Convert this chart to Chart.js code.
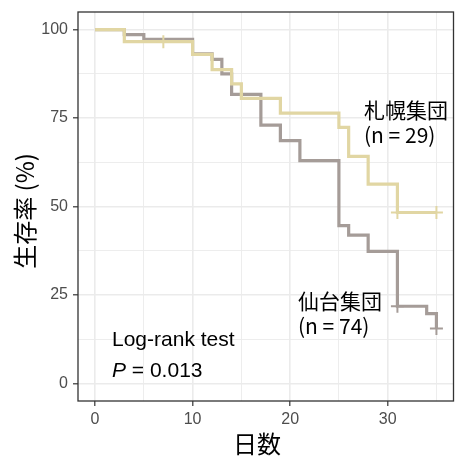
<!DOCTYPE html>
<html>
<head>
<meta charset="utf-8">
<script src="https://cdn.jsdelivr.net/npm/chart.js@4/dist/chart.umd.min.js"></script>
<style>
  html, body { margin: 0; padding: 0; background: #fff; }
  canvas { display: block; }
</style>
</head>
<body>
<canvas id="km" width="462" height="457"></canvas>
<script>
// Kaplan-Meier steps (day, survival %)
var sapporoDays = [0, 3, 10, 12, 14, 15, 19, 25, 26, 28, 31, 35];
var sapporoSurv = [100, 96.6, 93.0, 88.7, 84.7, 80.6, 76.4, 72.4, 64.2, 56.3, 48.3, 48.3];
var sapporoCensorDays = [7, 31, 35];
var sapporoCensorSurv = [96.6, 48.3, 48.3];

var sendaiDays = [0, 3, 5, 10, 12, 13, 14, 17, 19, 21, 25, 26, 28, 31, 34, 35];
var sendaiSurv = [100, 98.6, 97.3, 93.2, 91.6, 87.5, 81.7, 73.0, 68.6, 63.0, 44.6, 41.9, 37.3, 21.8, 19.7, 15.5];
var sendaiCensorDays = [31, 35];
var sendaiCensorSurv = [21.8, 15.5];

var xMajorTicks = [0, 10, 20, 30];
var xGridTicks = [0, 5, 10, 15, 20, 25, 30, 35];
var yMajorTicks = [0, 25, 50, 75, 100];
var yGridTicks = [0, 12.5, 25, 37.5, 50, 62.5, 75, 87.5, 100];

var sapporoColor = "#E1D6A3";
var sendaiColor = "#A59C98";
var latinFont = "'Liberation Sans', Arial, sans-serif";
var cjkFont = "'Noto Sans CJK JP', 'Liberation Sans', sans-serif";

function points(xs, ys) {
    return xs.map(function (x, i) { return { x: x, y: ys[i] }; });
}

function stepLine(xs, ys, color) {
    return {
        data: points(xs, ys),
        stepped: true,
        borderColor: color,
        borderWidth: 3.2,
        borderJoinStyle: "miter",
        borderCapStyle: "butt",
        pointRadius: 0,
        fill: false
    };
}

function censorMarks(xs, ys, color) {
    return {
        data: points(xs, ys),
        showLine: false,
        pointStyle: "cross",
        pointRadius: 6.5,
        pointBorderWidth: 2,
        pointBorderColor: color,
        pointBackgroundColor: color
    };
}

function gridStyle(majors) {
    return {
        color: "#EBEBEB",
        lineWidth: function (c) { return c.tick && majors.indexOf(c.tick.value) >= 0 ? 1.6 : 0.9; },
        drawTicks: true,
        tickLength: 5,
        tickWidth: 1.2,
        tickColor: function (c) { return c.tick && majors.indexOf(c.tick.value) >= 0 ? "#333333" : "rgba(0,0,0,0)"; }
    };
}

// panel border, axis titles and annotations
var decorations = {
    id: "decorations",
    afterDatasetsDraw: function (chart) {
        var ctx = chart.ctx, a = chart.chartArea;
        ctx.save();
        ctx.strokeStyle = "#333333";
        ctx.lineWidth = 1.3;
        ctx.strokeRect(a.left, a.top, a.right - a.left, a.bottom - a.top);
        ctx.restore();
    },
    afterDraw: function (chart) {
        var ctx = chart.ctx;
        ctx.save();
        ctx.fillStyle = "#000";

        ctx.font = "24px " + cjkFont;
        ctx.textAlign = "center";
        ctx.textBaseline = "middle";
        ctx.fillText("日数", 257, 444);
        ctx.save();
        ctx.translate(25, 211);
        ctx.rotate(-Math.PI / 2);
        ctx.fillText("生存率 (%)", 0, 0);
        ctx.restore();

        ctx.textAlign = "left";
        ctx.font = "21px " + cjkFont;
        ctx.textBaseline = "middle";
        ctx.fillText("札幌集団", 364, 110);
        ctx.fillText("仙台集団", 298, 301.5);
        ctx.textBaseline = "alphabetic";
        ctx.fillText("(n = 29)", 364, 143);
        ctx.fillText("(n = 74)", 298, 334);

        ctx.font = "21px " + latinFont;
        ctx.fillText("Log-rank test", 112, 346);
        ctx.font = "italic 21px " + latinFont;
        ctx.fillText("P", 112, 377);
        var w = ctx.measureText("P").width;
        ctx.font = "21px " + latinFont;
        ctx.fillText(" = 0.013", 112 + w, 377);
        ctx.restore();
    }
};

new Chart("km", {
    type: "line",
    data: {
        datasets: [
            censorMarks(sapporoCensorDays, sapporoCensorSurv, sapporoColor),
            stepLine(sapporoDays, sapporoSurv, sapporoColor),
            censorMarks(sendaiCensorDays, sendaiCensorSurv, sendaiColor),
            stepLine(sendaiDays, sendaiSurv, sendaiColor)
        ]
    },
    options: {
        responsive: false,
        animation: false,
        layout: { padding: { top: 12, right: 5, left: 0, bottom: 0 } },
        plugins: { legend: { display: false }, tooltip: { enabled: false } },
        scales: {
            x: {
                type: "linear",
                min: -1.75,
                max: 36.75,
                afterBuildTicks: function (s) { s.ticks = xGridTicks.map(function (v) { return { value: v }; }); },
                afterFit: function (s) { s.height = 56; s.paddingLeft = 0; s.paddingRight = 0; },
                border: { display: false },
                grid: gridStyle(xMajorTicks),
                ticks: {
                    autoSkip: false,
                    maxRotation: 0,
                    padding: 4,
                    color: "#4D4D4D",
                    font: { family: latinFont, size: 16 },
                    callback: function (v) { return xMajorTicks.indexOf(v) >= 0 ? String(v) : ""; }
                }
            },
            y: {
                type: "linear",
                min: -5,
                max: 105,
                afterBuildTicks: function (s) { s.ticks = yGridTicks.map(function (v) { return { value: v }; }); },
                afterFit: function (s) { s.width = 78; s.paddingTop = 0; s.paddingBottom = 0; },
                border: { display: false },
                grid: gridStyle(yMajorTicks),
                ticks: {
                    autoSkip: false,
                    padding: 5,
                    color: "#4D4D4D",
                    font: { family: latinFont, size: 16 },
                    callback: function (v) { return yMajorTicks.indexOf(v) >= 0 ? String(v) : ""; }
                }
            }
        }
    },
    plugins: [decorations]
});
</script>
</body>
</html>
